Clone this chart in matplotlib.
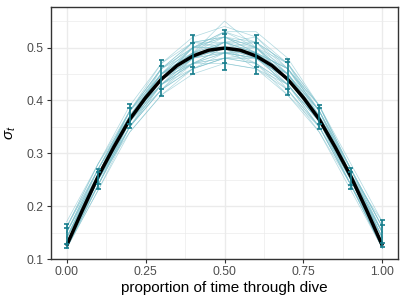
import matplotlib
matplotlib.use('Agg')
import matplotlib.pyplot as plt

plt.rcParams['font.family'] = ['Liberation Sans', 'DejaVu Sans']
plt.rcParams['mathtext.fontset'] = 'custom'
plt.rcParams['mathtext.rm'] = 'Liberation Sans'
plt.rcParams['mathtext.it'] = 'Liberation Sans:italic'

# proportion of time through dive
x = [0.0, 0.1, 0.2, 0.3, 0.4, 0.5, 0.6, 0.7, 0.8, 0.9, 1.0]

# thick black curve
xm = [0.0, 0.05, 0.1, 0.15, 0.2, 0.25, 0.3, 0.35, 0.4, 0.45, 0.5,
      0.55, 0.6, 0.65, 0.7, 0.75, 0.8, 0.85, 0.9, 0.95, 1.0]
ym = [0.125, 0.192, 0.256, 0.312, 0.364, 0.405, 0.440, 0.466, 0.484, 0.495, 0.499,
      0.495, 0.484, 0.466, 0.440, 0.405, 0.364, 0.312, 0.256, 0.192, 0.125]

# thin simulated curves
sims = [
    [0.13, 0.26, 0.37, 0.45, 0.49, 0.51, 0.49, 0.44, 0.36, 0.25, 0.13],
    [0.15, 0.27, 0.38, 0.46, 0.50, 0.52, 0.50, 0.45, 0.37, 0.26, 0.14],
    [0.12, 0.24, 0.35, 0.42, 0.46, 0.48, 0.47, 0.43, 0.36, 0.25, 0.13],
    [0.16, 0.27, 0.37, 0.43, 0.47, 0.49, 0.49, 0.46, 0.38, 0.27, 0.16],
    [0.14, 0.25, 0.36, 0.44, 0.49, 0.53, 0.51, 0.45, 0.37, 0.25, 0.12],
    [0.13, 0.25, 0.34, 0.41, 0.46, 0.49, 0.50, 0.47, 0.39, 0.27, 0.15],
    [0.12, 0.25, 0.36, 0.45, 0.51, 0.52, 0.49, 0.42, 0.34, 0.24, 0.13],
    [0.15, 0.26, 0.37, 0.44, 0.48, 0.50, 0.48, 0.44, 0.37, 0.26, 0.17],
    [0.13, 0.26, 0.38, 0.47, 0.52, 0.54, 0.52, 0.46, 0.38, 0.26, 0.14],
    [0.12, 0.23, 0.34, 0.41, 0.45, 0.47, 0.46, 0.42, 0.35, 0.24, 0.12],
    [0.14, 0.26, 0.36, 0.43, 0.47, 0.48, 0.47, 0.43, 0.36, 0.25, 0.13],
    [0.16, 0.28, 0.39, 0.47, 0.51, 0.52, 0.50, 0.45, 0.37, 0.26, 0.15],
    [0.13, 0.24, 0.35, 0.43, 0.48, 0.51, 0.51, 0.47, 0.39, 0.27, 0.14],
    [0.12, 0.25, 0.37, 0.45, 0.49, 0.49, 0.47, 0.41, 0.34, 0.23, 0.12],
    [0.14, 0.27, 0.38, 0.45, 0.48, 0.49, 0.48, 0.45, 0.38, 0.27, 0.16],
    [0.13, 0.25, 0.36, 0.44, 0.50, 0.53, 0.53, 0.48, 0.39, 0.26, 0.13],
    [0.15, 0.26, 0.36, 0.42, 0.46, 0.48, 0.48, 0.44, 0.37, 0.26, 0.14],
    [0.12, 0.24, 0.36, 0.45, 0.50, 0.50, 0.47, 0.42, 0.35, 0.24, 0.13],
    [0.14, 0.26, 0.37, 0.46, 0.51, 0.51, 0.49, 0.44, 0.36, 0.25, 0.15],
    [0.13, 0.25, 0.35, 0.42, 0.47, 0.50, 0.49, 0.45, 0.38, 0.27, 0.16],
    [0.16, 0.27, 0.38, 0.44, 0.47, 0.47, 0.46, 0.43, 0.36, 0.25, 0.13],
    [0.12, 0.24, 0.35, 0.43, 0.49, 0.52, 0.51, 0.46, 0.38, 0.25, 0.12],
    [0.14, 0.26, 0.37, 0.44, 0.49, 0.55, 0.50, 0.44, 0.36, 0.25, 0.14],
    [0.13, 0.26, 0.38, 0.46, 0.49, 0.49, 0.48, 0.43, 0.35, 0.24, 0.12],
    [0.15, 0.27, 0.37, 0.43, 0.46, 0.48, 0.48, 0.45, 0.38, 0.26, 0.15],
    [0.12, 0.23, 0.35, 0.44, 0.50, 0.51, 0.48, 0.43, 0.36, 0.25, 0.14],
    [0.13, 0.25, 0.37, 0.45, 0.48, 0.49, 0.49, 0.46, 0.39, 0.28, 0.17],
    [0.14, 0.25, 0.36, 0.43, 0.48, 0.50, 0.50, 0.46, 0.37, 0.25, 0.13],
    [0.17, 0.28, 0.37, 0.44, 0.48, 0.50, 0.49, 0.44, 0.36, 0.25, 0.13],
    [0.13, 0.24, 0.36, 0.44, 0.47, 0.49, 0.48, 0.44, 0.37, 0.26, 0.15],
    [0.14, 0.26, 0.38, 0.46, 0.50, 0.50, 0.48, 0.44, 0.37, 0.26, 0.14],
    [0.12, 0.25, 0.37, 0.44, 0.48, 0.51, 0.50, 0.45, 0.36, 0.24, 0.12],
    [0.15, 0.27, 0.37, 0.45, 0.50, 0.52, 0.49, 0.43, 0.35, 0.25, 0.14],
    [0.13, 0.25, 0.36, 0.43, 0.47, 0.50, 0.51, 0.47, 0.38, 0.26, 0.13],
    [0.14, 0.25, 0.35, 0.42, 0.48, 0.51, 0.49, 0.44, 0.37, 0.27, 0.16],
    [0.12, 0.24, 0.36, 0.46, 0.51, 0.50, 0.46, 0.41, 0.35, 0.24, 0.12],
    [0.16, 0.28, 0.38, 0.45, 0.49, 0.50, 0.49, 0.46, 0.39, 0.27, 0.15],
    [0.13, 0.26, 0.37, 0.44, 0.49, 0.51, 0.52, 0.47, 0.37, 0.25, 0.13],
    [0.14, 0.25, 0.37, 0.45, 0.47, 0.48, 0.49, 0.45, 0.36, 0.24, 0.12],
    [0.15, 0.26, 0.36, 0.44, 0.50, 0.53, 0.50, 0.44, 0.37, 0.26, 0.15],
]

# interval bars at each x
outer_hi = [0.167, 0.271, 0.393, 0.477, 0.523, 0.533, 0.524, 0.479, 0.392, 0.272, 0.173]
inner_hi = [0.159, 0.264, 0.385, 0.465, 0.509, 0.525, 0.509, 0.472, 0.386, 0.265, 0.164]
inner_lo = [0.128, 0.242, 0.356, 0.422, 0.463, 0.471, 0.463, 0.422, 0.355, 0.240, 0.131]
outer_lo = [0.120, 0.233, 0.347, 0.408, 0.450, 0.457, 0.450, 0.410, 0.345, 0.232, 0.123]

teal = '#167d8c'

fig = plt.figure(figsize=(4.07, 3.05), dpi=100)
ax = fig.add_axes([0.1246, 0.1508, 0.854, 0.825])

for s in sims:
    ax.plot(x, s, color='#7cc0cc', lw=0.5, alpha=0.6, zorder=2)

ax.plot(xm, ym, color='black', lw=2.5, zorder=3, solid_capstyle='butt')

ax.vlines(x, outer_lo, outer_hi, color=teal, lw=1.2, zorder=4)
ax.hlines(outer_hi + outer_lo + inner_hi + inner_lo,
          [v - 0.008 for v in x * 4], [v + 0.008 for v in x * 4],
          color=teal, lw=1.2, zorder=4)

ax.set_xlim(-0.05, 1.05)
ax.set_ylim(0.1, 0.576)
ax.set_xticks([0.0, 0.25, 0.5, 0.75, 1.0])
ax.set_xticklabels(['0.00', '0.25', '0.50', '0.75', '1.00'])
ax.set_yticks([0.1, 0.2, 0.3, 0.4, 0.5])
ax.set_yticklabels(['0.1', '0.2', '0.3', '0.4', '0.5'])
ax.set_xticks([0.125, 0.375, 0.625, 0.875], minor=True)
ax.set_yticks([0.15, 0.25, 0.35, 0.45, 0.55], minor=True)

ax.grid(True, which='major', color='#ebebeb', lw=1.0, zorder=0)
ax.grid(True, which='minor', color='#ebebeb', lw=0.5, zorder=0)
ax.set_axisbelow(True)
ax.tick_params(which='minor', length=0)
ax.tick_params(which='major', length=3, width=0.8, color='#333333',
               labelcolor='#4d4d4d', labelsize=8.8, pad=2)
for sp in ax.spines.values():
    sp.set_color('#333333')
    sp.set_linewidth(1.0)

ax.set_xlabel('proportion of time through dive', fontsize=11, labelpad=2)
ax.set_ylabel(r'$\sigma_t$', fontsize=11, labelpad=6)

fig.savefig('out.png', dpi=100)
